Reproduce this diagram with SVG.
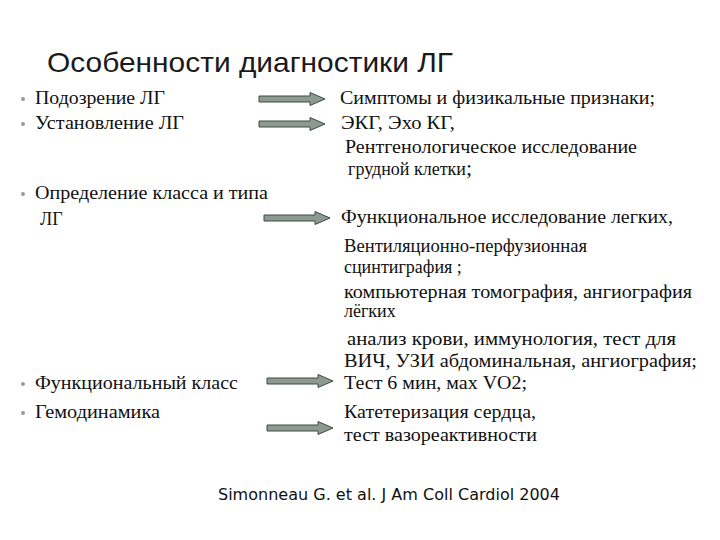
<svg xmlns="http://www.w3.org/2000/svg" xmlns:xlink="http://www.w3.org/1999/xlink" width="720" height="540" viewBox="0 0 720 540">
<style>
.t{font-family:"Liberation Serif","Times New Roman",serif;font-size:18px;fill:#111}
.ttl{font-family:"Liberation Sans",Arial,sans-serif;font-size:28px;fill:#1a1a1a}
.ref{font-family:"DejaVu Sans",Verdana,sans-serif;font-size:15px;fill:#111}
.b{fill:#9a9a9a}
.arr{fill:#8c9a92;stroke:#3c4a42;stroke-width:1}
</style>
<defs>
<path id="ar" d="M0 -3 H51 V-6.5 L66 0 L51 6.5 V3 H0 Z"/>
</defs>
<rect width="720" height="540" fill="#fff"/>
<g id="title"><text class="ttl" x="47" y="72" textLength="406" lengthAdjust="spacingAndGlyphs">Особенности диагностики ЛГ</text></g>

<g id="left">
<g id="n-podozrenie"><circle class="b" cx="23" cy="99" r="2"/><text class="t" x="35" y="104" textLength="130" lengthAdjust="spacingAndGlyphs">Подозрение ЛГ</text></g>
<g id="n-ustanovlenie"><circle class="b" cx="23" cy="124" r="2"/><text class="t" x="35" y="129" textLength="149" lengthAdjust="spacingAndGlyphs">Установление ЛГ</text></g>
<g id="n-opredelenie"><circle class="b" cx="23" cy="194" r="2"/><text class="t" x="35" y="199" textLength="233" lengthAdjust="spacingAndGlyphs">Определение класса и типа</text><text class="t" x="40" y="225">ЛГ</text></g>
<g id="n-fk"><circle class="b" cx="23" cy="384" r="2"/><text class="t" x="35" y="389" textLength="203" lengthAdjust="spacingAndGlyphs">Функциональный класс</text></g>
<g id="n-gemo"><circle class="b" cx="23" cy="413" r="2"/><text class="t" x="35" y="418" textLength="125" lengthAdjust="spacingAndGlyphs">Гемодинамика</text></g>
</g>

<g id="connectors">
<use class="arr" xlink:href="#ar" transform="translate(259,99)"/>
<use class="arr" xlink:href="#ar" transform="translate(259,124)"/>
<use class="arr" xlink:href="#ar" transform="translate(264,218)"/>
<use class="arr" xlink:href="#ar" transform="translate(267,381)"/>
<use class="arr" xlink:href="#ar" transform="translate(267,428)"/>
</g>

<g id="right">
<g id="r1"><text class="t" x="340" y="104" textLength="315" lengthAdjust="spacingAndGlyphs">Симптомы и физикальные признаки;</text></g>
<g id="r2"><text class="t" x="341" y="129" textLength="114" lengthAdjust="spacingAndGlyphs">ЭКГ, Эхо КГ,</text>
<text class="t" x="345" y="153" textLength="292" lengthAdjust="spacingAndGlyphs">Рентгенологическое исследование</text>
<text class="t" x="348" y="175">грудной клетки<tspan font-size="22">;</tspan></text></g>
<g id="r3"><text class="t" x="341" y="223" textLength="332" lengthAdjust="spacingAndGlyphs">Функциональное исследование легких,</text>
<text class="t" x="344" y="252" textLength="243" lengthAdjust="spacingAndGlyphs">Вентиляционно-перфузионная</text>
<text class="t" x="344" y="273">сцинтиграфия ;</text>
<text class="t" x="344" y="298" textLength="348" lengthAdjust="spacingAndGlyphs">компьютерная томография, ангиография</text>
<text class="t" x="344" y="317">лёгких</text>
<text class="t" x="347" y="345" textLength="329" lengthAdjust="spacingAndGlyphs">анализ крови, иммунология, тест для</text>
<text class="t" x="344" y="367" textLength="353" lengthAdjust="spacingAndGlyphs">ВИЧ, УЗИ абдоминальная, ангиография;</text></g>
<g id="r4"><text class="t" x="344" y="389" textLength="183" lengthAdjust="spacingAndGlyphs">Тест 6 мин, мах VO2;</text></g>
<g id="r5"><text class="t" x="344" y="418" textLength="192" lengthAdjust="spacingAndGlyphs">Катетеризация сердца,</text>
<text class="t" x="344" y="441" textLength="193" lengthAdjust="spacingAndGlyphs">тест вазореактивности</text></g>
</g>

<g id="reference"><text class="ref" x="218" y="500" textLength="342" lengthAdjust="spacingAndGlyphs">Simonneau G. et al. J Am Coll Cardiol 2004</text></g>
</svg>
